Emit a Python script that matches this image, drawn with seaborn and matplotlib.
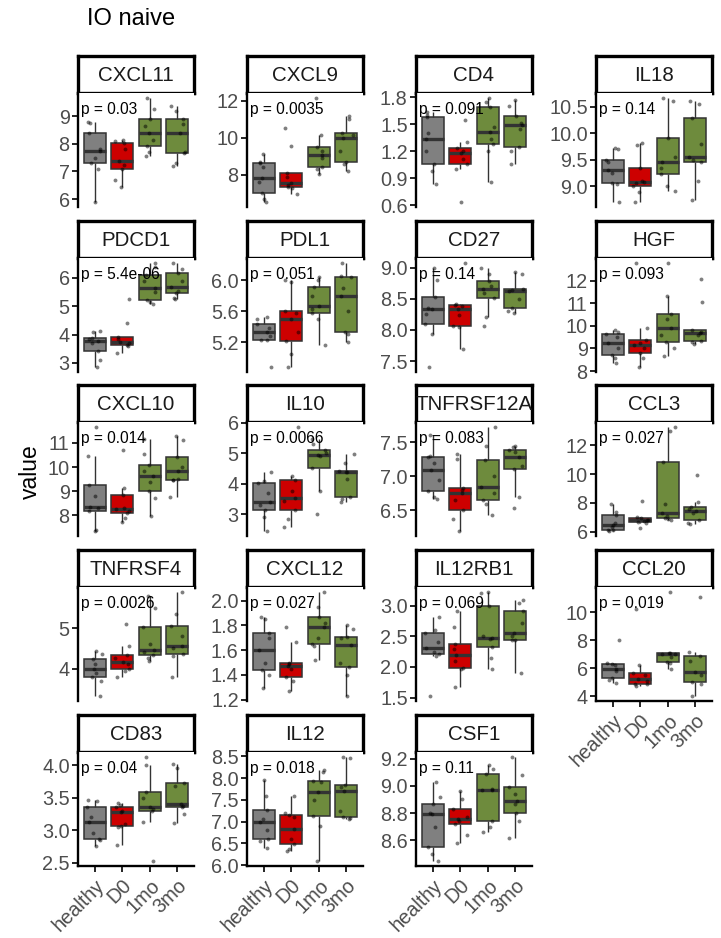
import numpy as np
import pandas as pd
import matplotlib
matplotlib.use("Agg")
import matplotlib.pyplot as plt
import seaborn as sns

sns.set_style("white")
plt.rcParams['font.family'] = ['Liberation Sans', 'DejaVu Sans']

GROUPS = ["healthy", "D0", "1mo", "3mo"]
COLORS = ["#808080", "#CD0000", "#6E8B3D", "#6E8B3D"]

GENES = ["CXCL11", "CXCL9", "CD4", "IL18",
         "PDCD1", "PDL1", "CD27", "HGF",
         "CXCL10", "IL10", "TNFRSF12A", "CCL3",
         "TNFRSF4", "CXCL12", "IL12RB1", "CCL20",
         "CD83", "IL12", "CSF1"]

PVALS = ["p = 0.03", "p = 0.0035", "p = 0.091", "p = 0.14",
         "p = 5.4e-06", "p = 0.051", "p = 0.14", "p = 0.093",
         "p = 0.014", "p = 0.0066", "p = 0.083", "p = 0.027",
         "p = 0.0026", "p = 0.027", "p = 0.069", "p = 0.019",
         "p = 0.04", "p = 0.018", "p = 0.11"]

YTICKS = [["6", "7", "8", "9"], ["8", "10", "12"], ["0.6", "0.9", "1.2", "1.5", "1.8"],
          ["9.0", "9.5", "10.0", "10.5"],
          ["3", "4", "5", "6"], ["5.2", "5.6", "6.0"], ["7.5", "8.0", "8.5", "9.0"],
          ["8", "9", "10", "11", "12"],
          ["8", "9", "10", "11"], ["3", "4", "5", "6"], ["6.5", "7.0", "7.5"],
          ["6", "8", "10", "12"],
          ["4", "5"], ["1.2", "1.4", "1.6", "1.8", "2.0"], ["1.5", "2.0", "2.5", "3.0"],
          ["4", "6", "8", "10"],
          ["2.5", "3.0", "3.5", "4.0"], ["6.0", "6.5", "7.0", "7.5", "8.0", "8.5"],
          ["8.6", "8.8", "9.0", "9.2"]]

# values per group: healthy, D0, 1mo, 3mo
CXCL11 = [[5.9, 7.1, 7.3, 7.5, 7.75, 7.8, 8.4, 8.75, 8.8],
          [6.45, 6.7, 7.1, 7.25, 7.37, 7.8, 8.03, 8.1, 8.15],
          [7.55, 7.7, 7.93, 8.15, 8.4, 8.65, 8.9, 9.25, 9.65],
          [7.2, 7.3, 7.65, 7.7, 8.38, 8.7, 8.9, 9.2, 9.35]]
CXCL9 = [[6.54, 6.7, 7.0, 7.6, 7.81, 8.4, 8.62, 8.7, 9.13],
         [6.96, 7.3, 7.32, 7.45, 7.56, 7.9, 8.08, 9.57, 10.52],
         [8.05, 8.3, 8.41, 8.9, 9.08, 9.3, 9.49, 10.13, 12.15],
         [8.23, 8.6, 8.68, 9.3, 10.0, 10.15, 10.25, 11.0, 11.2]]
CD4 = [[0.84, 0.98, 1.06, 1.2, 1.335, 1.4, 1.585, 1.6, 1.64],
       [0.64, 1.0, 1.065, 1.12, 1.18, 1.2, 1.235, 1.3, 1.55],
       [0.86, 1.2, 1.287, 1.34, 1.417, 1.47, 1.69, 1.75, 1.79],
       [1.057, 1.2, 1.25, 1.45, 1.49, 1.52, 1.595, 1.7, 1.77]]
IL18 = [[8.71, 9.05, 9.07, 9.25, 9.3, 9.45, 9.5, 9.7, 9.72],
        [8.71, 8.9, 9.0, 9.07, 9.08, 9.1, 9.34, 9.78, 9.81],
        [8.91, 9.0, 9.24, 9.35, 9.46, 9.55, 9.91, 10.6, 10.66],
        [8.75, 9.1, 9.46, 9.5, 9.56, 9.8, 10.29, 10.55, 10.61]]
PDCD1 = [[2.86, 3.1, 3.41, 3.7, 3.77, 3.85, 3.89, 4.1, 4.14],
         [3.35, 3.6, 3.63, 3.7, 3.75, 3.85, 3.92, 4.42, 5.25],
         [5.08, 5.15, 5.23, 5.5, 5.64, 5.9, 6.12, 6.4, 6.52],
         [5.25, 5.3, 5.47, 5.55, 5.69, 5.9, 6.17, 6.3, 6.52]]
PDL1 = [[4.88, 5.23, 5.23, 5.28, 5.33, 5.38, 5.44, 5.5, 5.52],
        [4.88, 5.05, 5.21, 5.33, 5.5, 5.58, 5.6, 5.98, 6.0],
        [5.16, 5.5, 5.58, 5.63, 5.67, 5.8, 5.91, 6.0, 6.04],
        [5.2, 5.3, 5.33, 5.6, 5.79, 5.9, 6.04, 6.05, 6.22]]
CD27 = [[7.41, 7.93, 8.1, 8.25, 8.34, 8.35, 8.53, 8.8, 9.0],
        [7.7, 8.05, 8.06, 8.24, 8.34, 8.38, 8.4, 8.42, 9.07],
        [8.06, 8.21, 8.52, 8.6, 8.66, 8.7, 8.78, 8.9, 9.0],
        [8.27, 8.3, 8.36, 8.5, 8.62, 8.64, 8.66, 8.9, 8.93]]
HGF = [[8.37, 8.6, 8.71, 9.0, 9.25, 9.5, 9.64, 9.75, 9.82],
       [8.19, 8.6, 8.81, 9.0, 9.15, 9.25, 9.37, 9.89, 12.77],
       [8.66, 9.0, 9.3, 9.6, 9.92, 10.3, 10.52, 11.32, 12.77],
       [9.2, 9.3, 9.33, 9.6, 9.67, 9.75, 9.82, 11.04, 12.06]]
CXCL10 = [[7.36, 7.4, 8.19, 8.3, 8.33, 8.8, 9.26, 10.47, 11.65],
          [7.71, 7.9, 8.08, 8.2, 8.26, 8.3, 8.84, 9.12, 10.71],
          [7.98, 8.7, 9.02, 9.4, 9.62, 9.85, 10.09, 10.55, 11.17],
          [8.75, 9.45, 9.46, 9.5, 9.85, 10.0, 10.41, 11.1, 11.3]]
IL10 = [[2.46, 2.9, 3.15, 3.3, 3.42, 3.7, 4.02, 4.1, 4.4],
        [2.6, 2.85, 3.14, 3.45, 3.54, 3.75, 4.13, 4.27, 5.86],
        [3.01, 3.75, 4.52, 4.9, 4.96, 5.0, 5.11, 5.3, 5.47],
        [3.39, 3.5, 3.56, 4.15, 4.38, 4.38, 4.41, 4.7, 4.98]]
TNFRSF12A = [[6.67, 6.7, 6.79, 6.95, 7.09, 7.2, 7.29, 7.3, 7.6],
             [6.2, 6.38, 6.5, 6.65, 6.75, 6.8, 6.83, 7.25, 7.32],
             [6.43, 6.6, 6.65, 6.75, 6.84, 7.0, 7.24, 7.45, 7.72],
             [6.54, 6.7, 7.1, 7.15, 7.29, 7.35, 7.39, 7.43, 7.45]]
CCL3 = [[6.07, 6.1, 6.14, 6.3, 6.49, 6.6, 7.18, 7.4, 7.9],
        [6.26, 6.6, 6.71, 6.78, 6.82, 6.85, 6.94, 7.0, 8.12],
        [6.85, 6.9, 6.94, 7.1, 7.29, 7.9, 10.82, 13.0, 13.25],
        [6.54, 6.6, 6.85, 7.3, 7.41, 7.6, 7.72, 8.07, 9.95]]
TNFRSF4 = [[3.32, 3.7, 3.8, 3.9, 4.0, 4.1, 4.23, 4.35, 4.43],
           [3.78, 3.95, 3.98, 4.1, 4.17, 4.25, 4.34, 4.56, 5.12],
           [4.19, 4.25, 4.34, 4.4, 4.45, 4.6, 5.04, 5.5, 5.8],
           [3.8, 4.3, 4.36, 4.5, 4.56, 4.8, 5.07, 5.35, 5.9]]
CXCL12 = [[1.29, 1.4, 1.44, 1.5, 1.6, 1.7, 1.74, 1.85, 1.87],
          [1.27, 1.35, 1.38, 1.45, 1.47, 1.49, 1.5, 1.67, 1.79],
          [1.52, 1.63, 1.65, 1.7, 1.79, 1.82, 1.87, 1.95, 2.07],
          [1.23, 1.4, 1.46, 1.5, 1.64, 1.7, 1.71, 1.77, 1.8]]
IL12RB1 = [[1.53, 2.18, 2.21, 2.25, 2.31, 2.4, 2.55, 2.6, 2.81],
           [1.68, 1.97, 1.99, 2.1, 2.19, 2.3, 2.38, 2.65, 2.91],
           [1.96, 2.15, 2.33, 2.45, 2.48, 2.5, 3.0, 3.2, 3.22],
           [1.91, 2.44, 2.44, 2.5, 2.56, 2.72, 2.92, 3.05, 3.1]]
CCL20 = [[4.92, 5.2, 5.34, 5.8, 5.93, 6.2, 6.34, 6.35, 7.99],
         [4.75, 4.85, 4.87, 5.1, 5.22, 5.5, 5.65, 6.24, 10.19],
         [5.93, 6.4, 6.45, 6.8, 7.0, 7.05, 7.12, 7.12, 11.42],
         [4.04, 4.9, 5.04, 5.5, 5.74, 6.5, 6.88, 7.16, 11.09]]
CD83 = [[2.76, 2.85, 2.87, 2.95, 3.13, 3.2, 3.36, 3.45, 3.47],
        [2.78, 3.05, 3.07, 3.1, 3.28, 3.3, 3.36, 3.38, 3.41],
        [2.53, 3.12, 3.3, 3.33, 3.36, 3.5, 3.59, 4.0, 4.12],
        [3.11, 3.25, 3.35, 3.37, 3.4, 3.68, 3.73, 3.95, 4.02]]
IL12 = [[6.4, 6.55, 6.61, 6.8, 6.99, 7.05, 7.27, 7.6, 7.96],
        [6.32, 6.38, 6.48, 6.6, 6.84, 7.1, 7.16, 7.2, 7.6],
        [6.1, 6.9, 7.13, 7.5, 7.69, 7.9, 7.93, 8.15, 8.19],
        [7.07, 7.08, 7.1, 7.25, 7.71, 7.8, 7.85, 8.45, 8.48]]
CSF1 = [[8.45, 8.5, 8.55, 8.7, 8.79, 8.8, 8.87, 8.92, 9.03],
        [8.58, 8.64, 8.72, 8.74, 8.76, 8.77, 8.83, 8.9, 8.96],
        [8.66, 8.7, 8.74, 8.97, 8.97, 8.98, 9.09, 9.12, 9.15],
        [8.62, 8.74, 8.8, 8.87, 8.89, 8.94, 8.99, 9.08, 9.21]]

VALUES = [CXCL11, CXCL9, CD4, IL18, PDCD1, PDL1, CD27, HGF, CXCL10, IL10,
          TNFRSF12A, CCL3, TNFRSF4, CXCL12, IL12RB1, CCL20, CD83, IL12, CSF1]

# ---------------- layout (pixels) ----------------
W, H = 721, 938
fig = plt.figure(figsize=(W / 100, H / 100), dpi=100)
col_left = [78, 247, 416, 596]
panel_w = 116
strip_top = [56, 221, 385, 550, 715]
strip_h = 37
plot_h = 114
bottom_panels = {16, 17, 18, 15}

def fr(left, top, w, h):
    return [left / W, (H - top - h) / H, w / W, h / H]

TICK_COLOR = "#4D4D4D"
np.random.seed(3)

for i, gene in enumerate(GENES):
    r, c = divmod(i, 4)
    left = col_left[c]
    st = strip_top[r]
    # strip
    sax = fig.add_axes(fr(left, st, panel_w, strip_h))
    sax.set_xticks([]); sax.set_yticks([])
    for sp in sax.spines.values():
        sp.set_visible(True); sp.set_linewidth(2.4); sp.set_color("black")
    sax.text(0.5, 0.47, gene, ha="center", va="center", fontsize=14.8,
             color="#1A1A1A", transform=sax.transAxes)
    # plot
    ax = fig.add_axes(fr(left, st + strip_h, panel_w, plot_h))
    rows = []
    for g, vals in zip(GROUPS, VALUES[i]):
        for v in vals:
            rows.append((g, v))
    df = pd.DataFrame(rows, columns=["group", "value"])
    sns.boxplot(data=df, x="group", y="value", hue="group", order=GROUPS,
                hue_order=GROUPS, palette=COLORS, width=0.8, showfliers=False,
                showcaps=False, linewidth=1.1, linecolor="#333333", saturation=1,
                medianprops={"linewidth": 2.4, "color": "#333333"},
                whiskerprops={"linewidth": 1.0}, legend=False, ax=ax)
    sns.stripplot(data=df, x="group", y="value", order=GROUPS, color="black",
                  alpha=0.5, size=2.8, jitter=0.27, linewidth=0, ax=ax)
    allv = df["value"]
    lo, hi = allv.min(), allv.max()
    rng = hi - lo
    ax.set_ylim(lo - 0.05 * rng, hi + 0.05 * rng)
    ax.set_xlim(-0.6, 3.6)
    ticks = YTICKS[i]
    ax.set_yticks([float(t) for t in ticks])
    ax.set_yticklabels(ticks)
    ax.set_xlabel(""); ax.set_ylabel("")
    for side in ["top", "right"]:
        ax.spines[side].set_visible(False)
    ax.spines["left"].set_linewidth(1.7)
    ax.spines["left"].set_color("black")
    ax.tick_params(axis="y", length=4, width=1.2, color="black", labelsize=14.3,
                   labelcolor=TICK_COLOR, pad=2, left=True)
    if i in bottom_panels:
        ax.spines["bottom"].set_linewidth(1.7)
        ax.spines["bottom"].set_color("black")
        ax.set_xticks(range(4))
        ax.set_xticklabels(GROUPS, rotation=45, ha="right", va="top",
                           rotation_mode="anchor")
        ax.tick_params(axis="x", length=4, width=1.2, color="black",
                       labelsize=14.3, labelcolor=TICK_COLOR, pad=3, bottom=True)
    else:
        ax.spines["bottom"].set_visible(False)
        ax.set_xticks([])
    ax.text(0.03, 0.855, PVALS[i], transform=ax.transAxes, ha="left",
            va="center", fontsize=11.2, color="black")

fig.text(87 / W, 1 - 19 / H, "IO naive", ha="left", va="center", fontsize=17,
         color="black")
fig.text(30 / W, 1 - 472 / H, "value", ha="center", va="center", fontsize=16.5,
         rotation=90, color="black")

fig.savefig("out.png", dpi=100, facecolor="white")
